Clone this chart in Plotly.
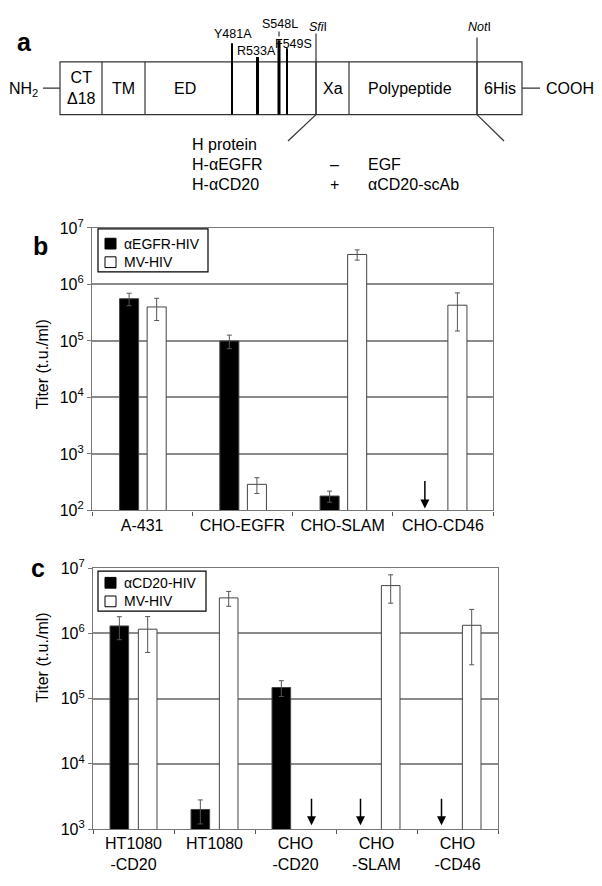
import math
import plotly.graph_objects as go

FONT = "Liberation Sans, Arial, sans-serif"
W, H = 602, 886

# ---- panel b data ----
b_cats = ["A-431", "CHO-EGFR", "CHO-SLAM", "CHO-CD46"]
b_series = ["αEGFR-HIV", "MV-HIV"]
b_egfr = [5.6e5, 1.0e5, 1.8e2, None]
b_egfr_err = [1.4e5, 2.7e4, 4e1, None]
b_mv = [4.0e5, 2.9e2, 3.4e6, 4.3e5]
b_mv_err = [1.7e5, 9e1, 7e5, 2.8e5]
b_arrow_cats = ["CHO-CD46"]
b_arrow_side = [-1]          # -1 = first bar slot, +1 = second
b_arrow_level = 108

# ---- panel c data ----
c_cats = ["HT1080<br>-CD20", "HT1080", "CHO<br>-CD20", "CHO<br>-SLAM", "CHO<br>-CD46"]
c_series = ["αCD20-HIV", "MV-HIV"]
c_cd20 = [1.3e6, 2.0e3, 1.48e5, None, None]
c_cd20_err = [5e5, 8e2, 4e4, None, None]
c_mv = [1.16e6, 3.5e6, None, 5.4e6, 1.33e6]
c_mv_err = [6.5e5, 9e5, None, 2.5e6, 1.0e6]
c_arrow_cats = ["CHO<br>-CD20", "CHO<br>-SLAM", "CHO<br>-CD46"]
c_arrow_side = [1, -1, -1]
c_arrow_level = 1.15e3

b_decades = [2, 3, 4, 5, 6, 7]
c_decades = [3, 4, 5, 6, 7]

# ---- panel a diagram (diagram units = pixels of the top strip) ----
box = [60, 52, 522, 106]
seg_lines = [102, 145, 316, 349, 477]
seg_labels = ["CT<br>Δ18", "TM", "ED", "Xa", "Polypeptide", "6His"]
seg_label_x = [81, 123.5, 184.5, 332.5, 410, 500]
mut_labels = ["Y481A", "R533A", "S548L", "F549S"]
mut_x = [232, 257.5, 279, 287]
mut_top = [33, 47, 30, 38]
mut_label_x = [233, 256, 280, 293]
mut_label_y = [24, 41, 13, 34]
mut_width = [2, 3, 3, 2]
site_labels = ["<i>Sfi</i>I", "<i>Not</i>I"]
site_x = [316, 477]
site_top = [23, 27]
site_foot = [288, 504]
h_rows = ["H protein", "H-αEGFR", "H-αCD20"]
h_sign = ["", "–", "+"]
h_ligand = ["", "EGF", "αCD20-scAb"]

fig = go.Figure()

bar_line = dict(color="#444", width=1)
err_style = dict(type="data", color="#555", thickness=1, width=2.5)
colors = ["black", "white"]

fig.add_trace(go.Bar(x=b_cats, y=b_egfr, name=b_series[0], marker=dict(color=colors[0], line=bar_line),
                     error_y=dict(array=b_egfr_err, **err_style), width=0.19, offset=-0.225,
                     xaxis="x", yaxis="y"))
fig.add_trace(go.Bar(x=b_cats, y=b_mv, name=b_series[1], marker=dict(color=colors[1], line=bar_line),
                     error_y=dict(array=b_mv_err, **err_style), width=0.19, offset=0.05,
                     xaxis="x", yaxis="y"))
fig.add_trace(go.Bar(x=c_cats, y=c_cd20, name=c_series[0], marker=dict(color=colors[0], line=bar_line),
                     error_y=dict(array=c_cd20_err, **err_style), width=0.23, offset=-0.29,
                     xaxis="x2", yaxis="y2"))
fig.add_trace(go.Bar(x=c_cats, y=c_mv, name=c_series[1], marker=dict(color=colors[1], line=bar_line),
                     error_y=dict(array=c_mv_err, **err_style), width=0.23, offset=0.06,
                     xaxis="x2", yaxis="y2"))

ann = []
shapes = []
for cat, side in zip(b_arrow_cats, b_arrow_side):
    ann.append(dict(x=cat, y=math.log10(b_arrow_level), xref="x", yref="y", xshift=18 * side,
                    text="", showarrow=True, ax=0, ay=-29, arrowhead=2, arrowsize=1.2,
                    arrowwidth=1.5, arrowcolor="black"))
for cat, side in zip(c_arrow_cats, c_arrow_side):
    ann.append(dict(x=cat, y=math.log10(c_arrow_level), xref="x2", yref="y2", xshift=16 * side,
                    text="", showarrow=True, ax=0, ay=-28, arrowhead=2, arrowsize=1.2,
                    arrowwidth=1.5, arrowcolor="black"))

# boxed legends drawn in paper space (pixel positions converted)
def px_x(v):
    return v / W

def px_y(v):
    return 1 - v / H

for names, (left, top, right, bottom), rows in [
        (b_series, (98, 223, 208, 267), [238, 257]),
        (c_series, (98, 573, 206, 614), [585, 604])]:
    shapes.append(dict(type="rect", xref="paper", yref="paper", x0=px_x(left), x1=px_x(right),
                       y0=px_y(bottom), y1=px_y(top), line=dict(color="black", width=1.2),
                       fillcolor="white", layer="above"))
    for name, col, ry in zip(names, colors, rows):
        shapes.append(dict(type="rect", xref="paper", yref="paper", x0=px_x(left + 7),
                           x1=px_x(left + 18), y0=px_y(ry + 5.5), y1=px_y(ry - 5.5),
                           line=dict(color="black", width=1), fillcolor=col, layer="above"))
        ann.append(dict(x=px_x(left + 24), y=px_y(ry), xref="paper", yref="paper", text=name,
                        xanchor="left", yanchor="middle", showarrow=False,
                        font=dict(size=14, family=FONT, color="black")))

# panel letters and y titles
for letter, px, py in [("a", 15, 15), ("b", 31, 224), ("c", 29, 570)]:
    ann.append(dict(x=px_x(px), y=px_y(py), xref="paper", yref="paper", text=f"<b>{letter}</b>",
                    showarrow=False, font=dict(size=25, family=FONT, color="black")))
for py in [362, 710]:
    ann.append(dict(x=px_x(32), y=px_y(py), xref="paper", yref="paper", text="Titer (t.u./ml)",
                    textangle=-90, showarrow=False, font=dict(size=16, family=FONT, color="black")))

# diagram
dline = dict(color="#333", width=1.2)
shapes.append(dict(type="rect", xref="x3", yref="y3", x0=box[0], y0=box[1], x1=box[2], y1=box[3], line=dline))
for sx in seg_lines:
    shapes.append(dict(type="line", xref="x3", yref="y3", x0=sx, x1=sx, y0=box[1], y1=box[3], line=dline))
for mx, mt, mw in zip(mut_x, mut_top, mut_width):
    shapes.append(dict(type="line", xref="x3", yref="y3", x0=mx, x1=mx, y0=mt, y1=box[3],
                       line=dict(color="black", width=mw)))
shapes.append(dict(type="line", xref="x3", yref="y3", x0=279, x1=279, y0=21, y1=26, line=dline))
for sx, st, sf in zip(site_x, site_top, site_foot):
    shapes.append(dict(type="line", xref="x3", yref="y3", x0=sx, x1=sx, y0=st, y1=box[3], line=dline))
    shapes.append(dict(type="line", xref="x3", yref="y3", x0=sx, x1=sf, y0=box[3], y1=133, line=dline))
shapes.append(dict(type="line", xref="x3", yref="y3", x0=43, x1=box[0], y0=79, y1=79, line=dline))
shapes.append(dict(type="line", xref="x3", yref="y3", x0=box[2], x1=540, y0=79, y1=79, line=dline))

def dtext(x, y, t, size=16, anchor="center"):
    ann.append(dict(x=x, y=y, xref="x3", yref="y3", text=t, showarrow=False, xanchor=anchor,
                    yanchor="middle", font=dict(size=size, family=FONT, color="black")))

dtext(7, 80, "NH<sub>2</sub>", anchor="left")
dtext(544, 79, "COOH", anchor="left")
for t, x in zip(seg_labels, seg_label_x):
    dtext(x, 79, t)
for t, x, y in zip(mut_labels, mut_label_x, mut_label_y):
    dtext(x, y, t, size=12.5)
for t, x in zip(site_labels, site_x):
    dtext(x + 2, 16, t, size=12.5)
for i, (r, s, l) in enumerate(zip(h_rows, h_sign, h_ligand)):
    y = 137 + 20 * i
    dtext(190, y, r, anchor="left")
    if s:
        dtext(334, y, s)
        dtext(366, y, l, anchor="left")

axis_common = dict(showline=True, linecolor="#777", linewidth=1.2, mirror=True,
                   tickfont=dict(size=16, family=FONT, color="black"))
fig.update_layout(
    width=W, height=H, margin=dict(l=0, r=0, t=0, b=0),
    paper_bgcolor="white", plot_bgcolor="white",
    font=dict(family=FONT, color="black"),
    barmode="group", showlegend=False,
    xaxis=dict(domain=[92 / W, 493 / W], anchor="y", type="category", ticks="outside",
               tickson="boundaries", ticklen=4, tickcolor="#555", showgrid=False, **axis_common),
    yaxis=dict(domain=[1 - 511 / H, 1 - 222 / H], anchor="x", type="log", range=[2, 7],
               tickvals=[10 ** d for d in b_decades],
               ticktext=[f"10<sup>{d}</sup>" for d in b_decades],
               ticks="outside", ticklen=4, tickcolor="#777", showgrid=True, gridcolor="#8a8a8a",
               gridwidth=1.5, **axis_common),
    xaxis2=dict(domain=[93 / W, 498 / W], anchor="y2", type="category", ticks="outside",
                tickson="boundaries", ticklen=4, tickcolor="#555", showgrid=False, **axis_common),
    yaxis2=dict(domain=[1 - 837 / H, 1 - 570 / H], anchor="x2", type="log", range=[3, 7],
                tickvals=[10 ** d for d in c_decades],
                ticktext=[f"10<sup>{d}</sup>" for d in c_decades],
                ticks="outside", ticklen=4, tickcolor="#777", showgrid=True, gridcolor="#8a8a8a",
                gridwidth=1.5, **axis_common),
    xaxis3=dict(domain=[0, 1], anchor="y3", range=[0, W], visible=False),
    yaxis3=dict(domain=[1 - 200 / H, 1], anchor="x3", range=[200, 0], visible=False),
    annotations=ann, shapes=shapes,
)

fig.write_html("out.html", config={"displayModeBar": False},
               post_script="document.body.style.margin='0';document.body.style.overflow='hidden';")
